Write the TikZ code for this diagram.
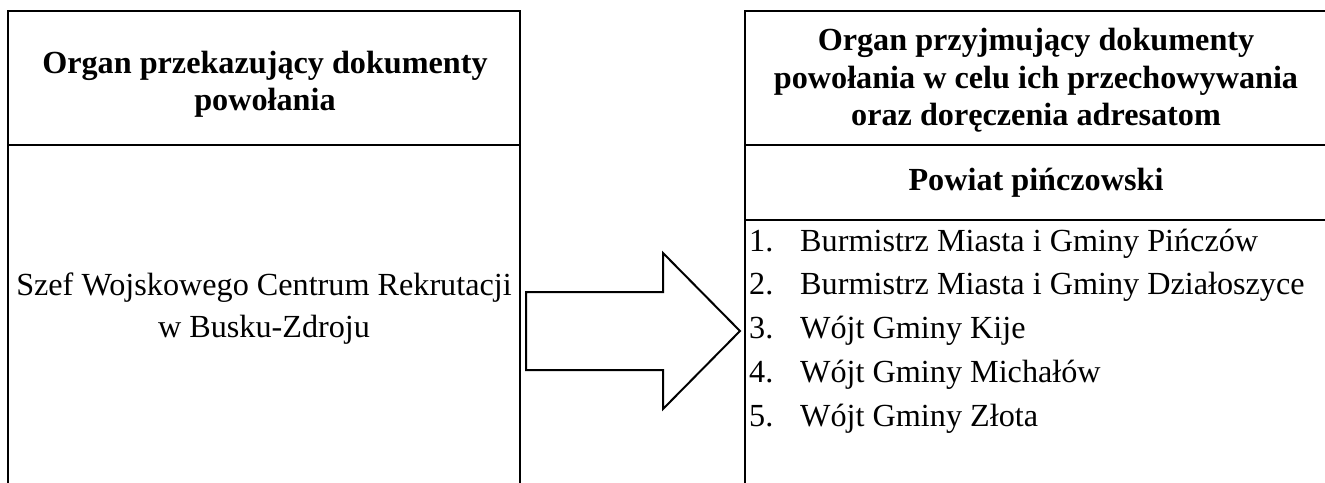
\documentclass[tikz,border=0pt]{standalone}
\usepackage{fontspec}
\setmainfont{Liberation Serif}
\begin{document}
\begin{tikzpicture}[x=1pt,y=-1pt,
  rule/.style={line width=2.6pt},
  arrowshape/.style={line width=2pt, line join=miter},
  txt/.style={font=\fontsize{32.2}{37}\selectfont, inner sep=0pt, anchor=base},
  hdr/.style={txt, font=\fontsize{32.2}{37}\selectfont\bfseries},
  num/.style={txt, anchor=base west},
  item/.style={txt, anchor=base west}]
\clip (0,0) rectangle (1325,482);
% left table
\draw[rule] (8,490) -- (8,11) -- (520,11) -- (520,490);
\draw[rule] (8,145) -- (520,145);
% right table
\draw[rule] (745,490) -- (745,11) -- (1327,11) -- (1327,490);
\draw[rule] (745,145) -- (1327,145);
\draw[rule] (745,220) -- (1327,220);
% left texts
\node[hdr] (lh1) at (265,73) {Organ przekazujący dokumenty};
\node[hdr] (lh2) at (265,110) {powołania};
\node[txt] (lb1) at (264,295) {Szef Wojskowego Centrum Rekrutacji};
\node[txt] (lb2) at (264,337) {w Busku-Zdroju};
% right texts
\node[hdr] (rh1) at (1036,50) {Organ przyjmujący dokumenty};
\node[hdr] (rh2) at (1036,88) {powołania w celu ich przechowywania};
\node[hdr] (rh3) at (1036,125) {oraz doręczenia adresatom};
\node[hdr] (rp) at (1036,190) {Powiat pińczowski};
\foreach \n/\t/\y in {1/Burmistrz Miasta i Gminy Pińczów/251,
                      2/Burmistrz Miasta i Gminy Działoszyce/294,
                      3/Wójt Gminy Kije/338,
                      4/Wójt Gminy Michałów/382,
                      5/Wójt Gminy Złota/426}{
  \node[num] (n\n) at (749,\y) {\n.};
  \node[item] (i\n) at (800,\y) {\t};
}
% block arrow
\draw[arrowshape] (526,292) -- (663,292) -- (663,253) -- (740,331)
  -- (663,409) -- (663,370) -- (526,370) -- cycle;
\end{tikzpicture}
\end{document}
